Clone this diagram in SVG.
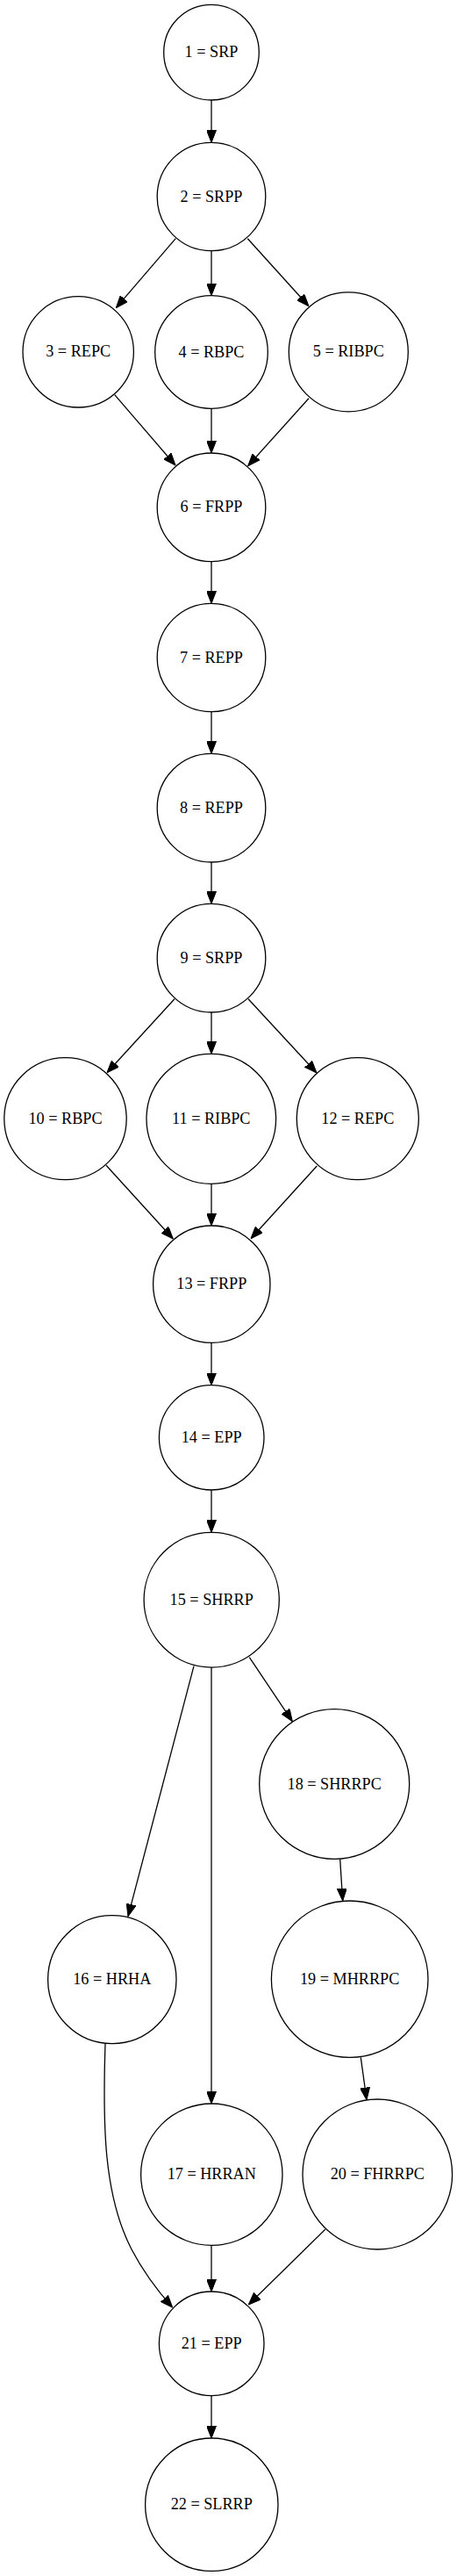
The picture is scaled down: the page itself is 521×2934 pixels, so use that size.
<svg xmlns="http://www.w3.org/2000/svg" width="521" height="2934" viewBox="0 0 521 2934">
<style>
.n ellipse{fill:none;stroke:#000;stroke-width:1.3}
.n text{font-family:"Liberation Serif","Times New Roman",serif;font-size:18.2px;text-anchor:middle;fill:#000}
.e path{fill:none;stroke:#000;stroke-width:1.3;marker-end:url(#ah)}
</style>
<defs>
<marker id="ah" markerUnits="userSpaceOnUse" viewBox="0 0 14 11" markerWidth="14" markerHeight="11" refX="14" refY="5.5" orient="auto">
<path d="M0,0 L14,5.5 L0,11 Z" fill="#000" stroke="#000" stroke-width="1"/>
</marker>
</defs>
<rect width="521" height="2934" fill="#fff"/>
<g id="edges" class="e">
<path d="M241,114 L241,162.3"/>
<path d="M200.3,271.7 L132.3,350.7"/>
<path d="M241,285.7 L241,336.7"/>
<path d="M282.3,271.7 L352,348.7"/>
<path d="M130.7,449.7 L200,530"/>
<path d="M241,465.3 L241,516"/>
<path d="M352,453.7 L282.7,530.7"/>
<path d="M241,639.7 L241,687.3"/>
<path d="M241,810.7 L241,858.3"/>
<path d="M241,982 L241,1029.3"/>
<path d="M199,1137.7 L122,1221.7"/>
<path d="M241,1153 L241,1200.3"/>
<path d="M283,1137.7 L361,1222"/>
<path d="M121,1327.3 L197.3,1411"/>
<path d="M241,1348.3 L241,1396"/>
<path d="M361.3,1328 L286,1410.7"/>
<path d="M241,1529.3 L241,1577.7"/>
<path d="M241,1697 L241,1745.3"/>
<path d="M221,1897.7 L146,2182.7"/>
<path d="M241,1899 L241,2396"/>
<path d="M284.3,1887.7 L333.3,1960.7"/>
<path d="M387.7,2117.7 L390.7,2165"/>
<path d="M411.3,2343.3 L418,2391.7"/>
<path d="M120,2327.7 C117,2420 118,2500 150,2562 C162,2585 175,2604 196.7,2628.3"/>
<path d="M241,2557.3 L241,2610"/>
<path d="M370.7,2539.3 L283.3,2625"/>
<path d="M241,2728.7 L241,2777"/>
</g>
<g id="node1" class="n"><ellipse cx="241" cy="59.7" rx="54.3" ry="54.3"/><text x="241" y="65.3">1 = SRP</text></g>
<g id="node2" class="n"><ellipse cx="241" cy="224" rx="61.8" ry="61.7"/><text x="241" y="229.6">2 = SRPP</text></g>
<g id="node3" class="n"><ellipse cx="89.2" cy="400.8" rx="63.2" ry="63.2"/><text x="89.2" y="406.4">3 = REPC</text></g>
<g id="node4" class="n"><ellipse cx="241" cy="401" rx="64.3" ry="64.3"/><text x="241" y="406.6">4 = RBPC</text></g>
<g id="node5" class="n"><ellipse cx="397.3" cy="400.8" rx="68" ry="68"/><text x="397.3" y="406.4">5 = RIBPC</text></g>
<g id="node6" class="n"><ellipse cx="241" cy="577.8" rx="61.8" ry="61.8"/><text x="241" y="583.4">6 = FRPP</text></g>
<g id="node7" class="n"><ellipse cx="241" cy="749" rx="61.8" ry="61.7"/><text x="241" y="754.6">7 = REPP</text></g>
<g id="node8" class="n"><ellipse cx="241" cy="920.2" rx="61.8" ry="61.8"/><text x="241" y="925.8">8 = REPP</text></g>
<g id="node9" class="n"><ellipse cx="241" cy="1091.2" rx="61.8" ry="61.8"/><text x="241" y="1096.8">9 = SRPP</text></g>
<g id="node10" class="n"><ellipse cx="74.5" cy="1274.2" rx="69.7" ry="69.5"/><text x="74.5" y="1279.8">10 = RBPC</text></g>
<g id="node11" class="n"><ellipse cx="240.8" cy="1274.3" rx="73.8" ry="74"/><text x="240.8" y="1279.9">11 = RIBPC</text></g>
<g id="node12" class="n"><ellipse cx="407.8" cy="1274.2" rx="69.5" ry="69.5"/><text x="407.8" y="1279.8">12 = REPC</text></g>
<g id="node13" class="n"><ellipse cx="241.3" cy="1462.7" rx="66.7" ry="66.7"/><text x="241.3" y="1468.3">13 = FRPP</text></g>
<g id="node14" class="n"><ellipse cx="241.2" cy="1637.3" rx="59.8" ry="59.7"/><text x="241.2" y="1642.9">14 = EPP</text></g>
<g id="node15" class="n"><ellipse cx="241.2" cy="1822.2" rx="77.1" ry="76.9"/><text x="241.2" y="1827.8">15 = SHRRP</text></g>
<g id="node16" class="n"><ellipse cx="127.8" cy="2254.7" rx="73.2" ry="73"/><text x="127.8" y="2260.3">16 = HRHA</text></g>
<g id="node17" class="n"><ellipse cx="241.3" cy="2476.7" rx="80.7" ry="80.7"/><text x="241.3" y="2482.3">17 = HRRAN</text></g>
<g id="node18" class="n"><ellipse cx="381.2" cy="2032" rx="85.5" ry="85.3"/><text x="381.2" y="2037.6">18 = SHRRPC</text></g>
<g id="node19" class="n"><ellipse cx="398.7" cy="2254.2" rx="89.3" ry="89.2"/><text x="398.7" y="2259.8">19 = MHRRPC</text></g>
<g id="node20" class="n"><ellipse cx="430.3" cy="2476.5" rx="85.3" ry="85.5"/><text x="430.3" y="2482.1">20 = FHRRPC</text></g>
<g id="node21" class="n"><ellipse cx="241.2" cy="2669.3" rx="59.8" ry="59.3"/><text x="241.2" y="2674.9">21 = EPP</text></g>
<g id="node22" class="n"><ellipse cx="241.3" cy="2852.7" rx="75.7" ry="75.7"/><text x="241.3" y="2858.3">22 = SLRRP</text></g>
</svg>
